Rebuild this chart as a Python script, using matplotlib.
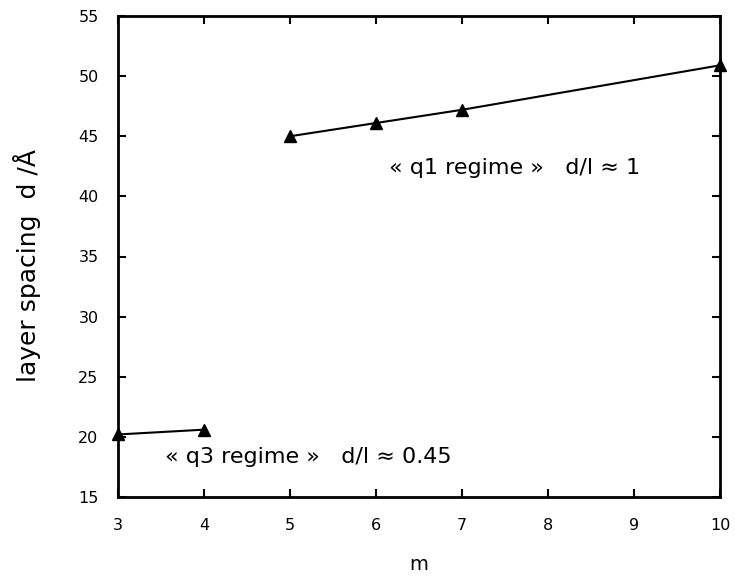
import matplotlib
matplotlib.use("Agg")
import matplotlib.pyplot as plt

m_q3 = [3, 4]
d_q3 = [20.2, 20.6]
m_q1 = [5, 6, 7, 10]
d_q1 = [45.0, 46.1, 47.2, 50.9]
xticks = [3, 4, 5, 6, 7, 8, 9, 10]
yticks = [15, 20, 25, 30, 35, 40, 45, 50, 55]

plt.rcParams['font.family'] = ['DejaVu Sans']

fig = plt.figure(figsize=(7.35, 5.77), dpi=100)
ax = fig.add_axes([118/735, 1-497/577, (720-118)/735, (497-16)/577])

for xs, ys in [(m_q3, d_q3), (m_q1, d_q1)]:
    ax.plot(xs, ys, color='black', lw=1.5, marker='^', markersize=9, clip_on=False, zorder=3)

ax.set_xlim(3, 10)
ax.set_ylim(15, 55)
ax.set_xticks(xticks)
ax.set_yticks(yticks)
ax.tick_params(direction='in', length=6, width=1.5, labelsize=11.5, top=True, right=True)
ax.tick_params(axis='x', pad=15)
ax.tick_params(axis='y', pad=14)
for s in ax.spines.values():
    s.set_linewidth(2)

ax.set_xlabel('m', fontsize=14)
ax.set_ylabel('layer spacing  d /Å', fontsize=18)
ax.xaxis.set_label_coords(0.5, -0.12)
ax.yaxis.set_label_coords(-0.128, 0.482)

ax.text(6.15, 42.4, '« q1 regime »   d/l ≈ 1', fontsize=16, va='center', ha='left')
ax.text(3.55, 18.3, '« q3 regime »   d/l ≈ 0.45', fontsize=16, va='center', ha='left')

fig.savefig('out.png', dpi=100)
